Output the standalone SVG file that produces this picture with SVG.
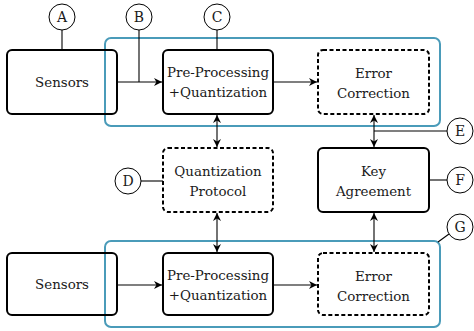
<svg xmlns="http://www.w3.org/2000/svg" width="474" height="331" viewBox="0 0 474 331">
<style>
.node{fill:none;stroke:#000;stroke-width:2}
.dash{stroke-dasharray:4 2.5}
.grp{fill:none;stroke:#4a9bb9;stroke-width:2}
.lbl{fill:#fff;stroke:#000;stroke-width:1}
.ln{fill:none;stroke:#000;stroke-width:1.1}
text{font-family:"DejaVu Serif","Liberation Serif",serif;font-size:13.4px;fill:#1a1a1a;text-anchor:middle}
.lt{font-size:14px}
</style>
<defs>
<marker id="ah" viewBox="0 0 10 10" refX="10" refY="5" markerWidth="8" markerHeight="8" markerUnits="userSpaceOnUse" orient="auto-start-reverse">
<path d="M0,0 L10,5 L0,10 L3,5 Z" fill="#000"/>
</marker>
</defs>
<rect x="0" y="0" width="474" height="331" fill="#fff"/>

<g id="group-top"><rect class="grp" x="105" y="38" width="335" height="88" rx="6"/></g>
<g id="group-bottom"><rect class="grp" x="105" y="241" width="335" height="86" rx="6"/></g>

<g id="sensors1"><rect class="node" x="7" y="50" width="110" height="64" rx="5"/><text x="62" y="87">Sensors</text></g>
<g id="preproc1"><rect class="node" x="163" y="50" width="110" height="64" rx="5"/><text x="218" y="77">Pre-Processing</text><text x="218" y="97">+Quantization</text></g>
<g id="errcorr1"><rect class="node dash" x="318" y="50" width="111" height="64" rx="5"/><text x="373.5" y="78">Error</text><text x="373.5" y="98">Correction</text></g>
<g id="quantproto"><rect class="node dash" x="163" y="148" width="110" height="64" rx="5"/><text x="218" y="176">Quantization</text><text x="218" y="196">Protocol</text></g>
<g id="keyagree"><rect class="node" x="318" y="148" width="111" height="64" rx="5"/><text x="373.5" y="176">Key</text><text x="373.5" y="196">Agreement</text></g>
<g id="sensors2"><rect class="node" x="7" y="253" width="110" height="62" rx="5"/><text x="62" y="289">Sensors</text></g>
<g id="preproc2"><rect class="node" x="163" y="253" width="110" height="62" rx="5"/><text x="218" y="280">Pre-Processing</text><text x="218" y="300">+Quantization</text></g>
<g id="errcorr2"><rect class="node dash" x="318" y="253" width="111" height="62" rx="5"/><text x="373.5" y="281">Error</text><text x="373.5" y="301">Correction</text></g>

<g id="connectors">
<line class="ln" x1="117" y1="82" x2="162" y2="82" marker-end="url(#ah)"/>
<line class="ln" x1="273" y1="82" x2="317" y2="82" marker-end="url(#ah)"/>
<line class="ln" x1="217" y1="115" x2="217" y2="147" marker-start="url(#ah)" marker-end="url(#ah)"/>
<line class="ln" x1="374" y1="115" x2="374" y2="147" marker-start="url(#ah)" marker-end="url(#ah)"/>
<line class="ln" x1="217" y1="213" x2="217" y2="252" marker-start="url(#ah)" marker-end="url(#ah)"/>
<line class="ln" x1="374" y1="213" x2="374" y2="252" marker-start="url(#ah)" marker-end="url(#ah)"/>
<line class="ln" x1="117" y1="285" x2="162" y2="285" marker-end="url(#ah)"/>
<line class="ln" x1="273" y1="285" x2="317" y2="285" marker-end="url(#ah)"/>
<line class="ln" x1="62" y1="30" x2="62" y2="50"/>
<line class="ln" x1="139" y1="30" x2="139" y2="82"/>
<line class="ln" x1="217" y1="30" x2="217" y2="50"/>
<line class="ln" x1="141" y1="181" x2="163" y2="181"/>
<line class="ln" x1="374" y1="131" x2="447" y2="131"/>
<line class="ln" x1="429" y1="180" x2="447" y2="180"/>
<line class="ln" x1="438" y1="242" x2="449" y2="234"/>
</g>

<g id="labelA"><circle class="lbl" cx="62" cy="17" r="13"/><text class="lt" x="62" y="22">A</text></g>
<g id="labelB"><circle class="lbl" cx="139" cy="17" r="13"/><text class="lt" x="139" y="22">B</text></g>
<g id="labelC"><circle class="lbl" cx="217" cy="17" r="13"/><text class="lt" x="217" y="22">C</text></g>
<g id="labelD"><circle class="lbl" cx="128" cy="181" r="13"/><text class="lt" x="128" y="186">D</text></g>
<g id="labelE"><circle class="lbl" cx="460" cy="131" r="13"/><text class="lt" x="460" y="136">E</text></g>
<g id="labelF"><circle class="lbl" cx="460" cy="180" r="13"/><text class="lt" x="460" y="185">F</text></g>
<g id="labelG"><circle class="lbl" cx="460" cy="227" r="13"/><text class="lt" x="460" y="232">G</text></g>
</svg>
